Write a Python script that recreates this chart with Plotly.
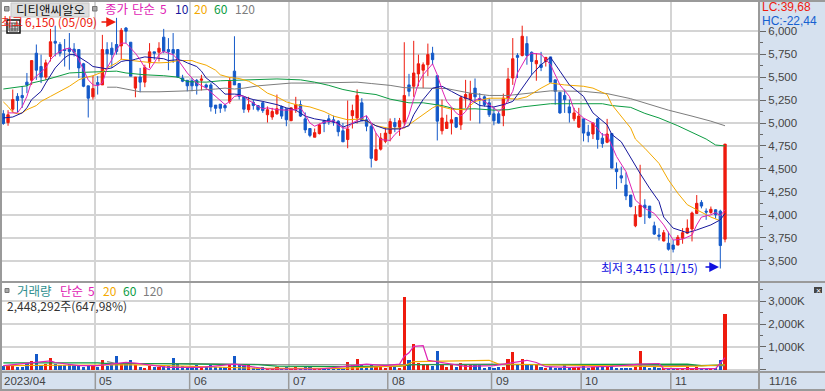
import plotly.graph_objects as go

open_ = [5100,5005,5150,5290,5300,5445,5465,5760,5615,5500,5725,5890,5855,5800,5815,5805,5800,5645,5405,5285,
5440,5415,5800,5815,5855,5840,6035,5880,5380,5500,5445,5655,5775,5770,5935,5800,5800,5800,5490,5465,
5460,5465,5465,5415,5415,5195,5205,5190,5235,5565,5430,5285,5145,5225,5190,5220,5090,5065,
5100,5180,5155,5025,5155,5200,5045,4940,4845,4885,5025,5045,5035,5020,4915,4820,5080,5055,5220,5035,4965,4595,
4715,4800,4885,5005,4955,5010,5415,5400,5535,5575,5635,5760,5515,4915,4940,5000,5060,4980,5265,5255,
5380,5265,5285,5220,5100,5100,5080,5270,5490,5735,5735,5865,5770,5645,5635,5670,
5720,5470,5335,5300,5175,5045,4955,5045,4900,4880,5045,4835,4790,4885,4500,4425,4325,4215,3880,3980,4105,4095,
3880,3780,3715,3690,3670,3670,3745,3800,3845,4015,4135,4040,4025,4055,4040,3735]
high = [5140,5140,5365,5325,5400,5545,5680,5855,5745,5690,6025,6060,5880,5915,5980,5870,5800,5655,5405,5515,
5510,5960,5880,5880,6145,6035,6045,5880,5500,5600,5635,5870,5775,5880,6025,5925,5980,5800,5525,5465,
5490,5480,5525,5430,5435,5195,5205,5210,5500,5945,5430,5285,5285,5255,5190,5235,5180,5165,
5310,5190,5155,5165,5285,5245,5115,4940,4940,4995,5035,5090,5080,5030,5000,5245,5200,5365,5270,5080,5000,4890,
4890,4945,5050,5055,5055,5880,5535,5895,5745,5660,5865,5830,5515,5255,5090,5165,5065,5300,5470,5460,
5485,5325,5300,5270,5175,5125,5320,5600,5925,5760,6060,5945,5780,5760,5775,5715,
5720,5470,5335,5365,5255,5165,5165,5045,4980,5005,5055,4890,5045,4885,4570,4525,4460,4215,4095,4545,4170,4095,
3925,3855,3835,3815,3725,3780,3855,3950,4035,4215,4160,4070,4090,4060,4055,4770]
low = [4980,4970,5115,5115,5165,5325,5415,5470,5435,5470,5670,5725,5725,5615,5580,5725,5490,5390,5060,5255,
5310,5415,5600,5600,5745,5690,5870,5510,5280,5335,5390,5600,5690,5670,5760,5575,5655,5490,5445,5345,
5345,5310,5355,5375,5125,5100,5110,5125,5210,5415,5255,5110,5115,5145,5125,5110,5005,5035,
5090,5045,4965,5020,5110,5065,4890,4845,4845,4875,4900,4980,4970,4855,4795,4725,4940,4995,5020,4910,4515,4585,
4700,4780,4800,4900,4860,4965,5290,5285,5400,5380,5510,5635,4810,4875,4935,4875,4945,4925,5165,5025,
5235,4995,5180,5065,4975,4995,4965,5230,5415,5490,5725,5635,5525,5460,5565,5615,
5445,5200,5100,5110,5005,5020,4945,4800,4790,4825,4720,4730,4780,4505,4280,4345,4160,4080,3865,3975,3900,3960,
3780,3720,3710,3610,3590,3670,3685,3790,3710,4010,4070,3945,4010,3960,3415,3700]
close = [4995,5090,5255,5245,5275,5415,5680,5575,5500,5655,5885,5870,5760,5790,5780,5770,5600,5400,5270,5375,
5420,5800,5755,5745,5780,6010,6000,5510,5500,5445,5605,5775,5760,5815,5780,5775,5760,5500,5455,5405,
5405,5405,5480,5390,5175,5160,5160,5165,5455,5415,5290,5150,5200,5190,5145,5135,5145,5125,
5155,5075,5035,5165,5200,5075,4925,4865,4895,4980,4995,5010,5010,4905,4795,4935,5135,5300,5025,4965,4615,4710,
4835,4890,5015,4960,5025,5300,5345,5545,5645,5635,5745,5690,5020,5055,5010,5035,4955,5275,5310,5320,
5285,5255,5200,5090,5025,5000,5270,5480,5700,5715,5945,5735,5670,5680,5605,5715,
5445,5345,5110,5255,5110,5110,5075,4890,4865,5000,4820,4775,4880,4510,4470,4400,4205,4090,4000,4105,4075,3970,
3790,3765,3805,3625,3625,3755,3805,3855,4020,4125,4095,4030,4060,4000,3665,4770]
volume = [170,195,195,140,125,310,395,675,195,280,505,280,225,195,240,195,195,140,195,170,
115,420,170,195,590,280,340,420,195,140,85,170,140,115,170,170,505,310,170,115,
115,195,115,140,195,140,140,115,280,620,280,195,225,85,85,140,85,55,
115,85,115,85,140,85,115,115,100,85,55,55,55,55,85,340,225,465,195,140,
195,170,115,55,115,115,85,3170,420,1140,295,195,195,170,845,195,140,195,125,295,
195,195,195,195,85,140,85,115,140,465,760,195,465,195,225,195,115,85,
115,85,85,195,115,115,115,195,85,115,115,115,115,195,85,85,85,85,115,845,115,85,
115,85,55,85,55,55,55,115,85,115,85,55,55,85,420,2448]

ma5_i = [1,3,4,5,6,7,9,10,11,12,13,14,15,16,17,18,19,20,21,22,23,24,25,26,27,28,29,30,31,32,33,34,35,36,37,38,39,40,41,43,45,46,47,48,49,50,51,52,53,54,55,56,58,60,62,63,64,65,66,68,70,71,72,73,74,76,77,78,79,80,82,83,85,86,87,88,89,91,92,93,94,96,97,98,99,101,102,104,105,106,108,109,111,112,114,116,117,118,120,121,123,125,126,127,128,129,130,132,133,134,136,138,140,141,142,144,146,147,148,150,151,152,153]
ma5_v = [5110,5110,5180,5290,5455,5510,5600,5690,5745,5780,5805,5815,5780,5690,5580,5470,5415,5405,5435,5600,5690,5800,5870,5870,5815,5760,5690,5600,5580,5655,5745,5780,5760,5745,5690,5615,5545,5490,5435,5380,5290,5235,5200,5235,5290,5300,5290,5245,5220,5180,5155,5165,5145,5140,5145,5165,5090,5000,4965,5010,5025,4980,4945,4945,5000,5055,5080,5000,4890,4820,4810,4875,4965,5090,5255,5435,5525,5645,5525,5365,5235,5110,5075,5125,5220,5270,5235,5165,5125,5165,5345,5545,5725,5760,5750,5635,5525,5415,5290,5145,5055,5000,4935,4870,4870,4760,4635,4470,4305,4160,4070,4015,3890,3800,3725,3735,3780,3890,3975,4000,4025,3990,4055]
ma10_i = [0,2,4,5,6,8,9,10,11,12,13,14,15,16,17,18,19,21,22,23,24,25,26,27,28,30,31,33,34,35,37,38,39,41,42,43,45,46,47,49,50,52,53,55,58,60,62,64,66,69,71,72,74,76,77,79,81,84,86,87,89,91,93,95,97,99,101,104,106,108,110,112,114,116,118,120,123,125,128,129,131,133,135,137,139,140,142,145,147,150,152,153]
ma10_v = [5055,5065,5110,5165,5255,5345,5435,5525,5600,5655,5710,5745,5745,5720,5690,5655,5615,5600,5590,5600,5635,5670,5680,5680,5695,5720,5715,5710,5700,5680,5690,5680,5655,5615,5565,5490,5415,5365,5315,5315,5310,5270,5255,5235,5200,5165,5140,5075,5045,5020,5000,4955,4995,5025,5025,4970,4935,4935,4970,5090,5255,5380,5400,5345,5290,5255,5190,5175,5200,5235,5380,5525,5635,5715,5565,5415,5290,5110,4980,4875,4795,4615,4450,4290,4145,3975,3855,3805,3835,3890,3945,4015]
ma20_i = [0,1,2,3,4,5,7,8,10,12,14,16,17,19,21,22,24,25,27,29,31,33,35,37,40,41,43,45,46,48,50,52,54,56,58,60,62,65,68,70,73,76,79,82,85,87,89,91,92,95,98,100,103,106,109,111,114,116,119,123,125,128,129,131,133,134,136,139,141,143,145,147,150,152]
ma20_v = [5230,5180,5115,5100,5110,5145,5190,5235,5290,5345,5400,5470,5490,5515,5555,5600,5655,5695,5680,5670,5660,5655,5660,5680,5680,5660,5630,5575,5525,5495,5485,5455,5400,5325,5285,5230,5200,5175,5125,5075,5035,5045,4970,4940,4945,5020,5090,5165,5190,5150,5145,5235,5270,5270,5260,5285,5380,5435,5415,5400,5380,5310,5200,5075,4945,4825,4725,4560,4380,4235,4110,4055,3975,3935]
ma60_i = [0,2,5,6,9,12,14,16,18,22,24,26,30,34,37,39,43,46,49,52,58,63,66,69,72,75,79,82,86,89,93,96,100,104,107,110,114,116,127,129,133,136,139,143,149,151,153]
ma60_v = [5370,5385,5405,5435,5470,5515,5545,5550,5555,5565,5565,5545,5525,5515,5500,5450,5445,5460,5465,5470,5480,5470,5445,5410,5365,5335,5310,5260,5220,5220,5190,5150,5155,5140,5145,5175,5200,5210,5210,5190,5170,5105,5055,4970,4825,4760,4750]
ma120_i = [22,24,26,29,33,39,45,47,49,51,54,58,61,66,75,78,82,85,89,94,99,103,107,111,116,123,128,133,137,141,146,150,153]
ma120_v = [5390,5390,5370,5340,5340,5350,5370,5380,5370,5380,5405,5425,5435,5435,5445,5430,5410,5385,5380,5375,5325,5300,5300,5320,5350,5345,5320,5265,5200,5140,5075,5020,4970]

vma5_i = [0,3,8,10,11,16,20,26,28,35,42,49,56,67,72,77,81,84,85,86,87,89,90,94,98,104,107,111,113,115,120,129,135,139,140,151,153]
vma5_v = [185,255,365,395,325,185,185,325,295,115,115,255,40,40,140,255,185,255,600,745,1030,1055,420,280,155,185,280,420,325,140,115,155,255,280,55,55,535]
vma20_i = [0,20,28,40,47,54,72,85,87,95,103,105,116,120,128,134,140,147,153]
vma20_v = [185,225,225,155,115,70,70,185,365,395,420,255,225,225,185,185,140,170,225]
vma60_i = [0,20,24,29,40,54,58,72,84,87,104,110,120,134,145,148,153]
vma60_v = [310,310,255,280,255,225,170,140,170,225,225,225,255,255,255,185,225]
vma120_i = [22,24,40,47,54,58,80,104,116,153]
vma120_v = [365,280,280,255,255,225,225,255,225,185]

month_pos = [19.5,39.5,60.5,81.5,103.5,122.5,141.5]
month_labels = ["05","06","07","08","09","10","11"]
price_ticks = [3500,3750,4000,4250,4500,4750,5000,5250,5500,5750,6000]
price_minor = [3625,3875,4125,4375,4625,4875,5125,5375,5625,5875]
vol_ticks = [0,1000,2000,3000]
vol_tick_text = ["","1,000K","2,000K","3,000K"]
vol_minor = [500,1500,2500,3500]

W, H = 825, 391
RED, BLUE = "#ee1b0e", "#1359c9"
MAG, NAVY, ORA, GRN, GRY = "#e023b4", "#17179c", "#f4a900", "#0c9c42", "#7d7d7d"
PANEL, EDGE, GRID = "#d6e1ef", "#9a9a9a", "#d4d4d4"
TXT = "#444444"
FONT = "Noto Sans CJK KR"
LAT = "Liberation Sans"

px = lambda v: v / W
py = lambda v: 1 - v / H
X0, X1 = 2, 759
x_range = [(X0 - 3.33) / 4.717, (X1 - 3.33) / 4.717]

fig = go.Figure()
idx = list(range(len(close)))
fig.add_trace(go.Candlestick(x=idx, open=open_, high=high, low=low, close=close, whiskerwidth=0,
    increasing=dict(line=dict(color=RED, width=1), fillcolor=RED),
    decreasing=dict(line=dict(color=BLUE, width=1), fillcolor=BLUE),
    hoverinfo="skip", xaxis="x", yaxis="y"))
for xs, ys, c in [(ma120_i, ma120_v, GRY), (ma60_i, ma60_v, GRN), (ma20_i, ma20_v, ORA), (ma10_i, ma10_v, NAVY), (ma5_i, ma5_v, MAG)]:
    fig.add_trace(go.Scatter(x=xs, y=ys, mode="lines", line=dict(color=c, width=1), hoverinfo="skip", xaxis="x", yaxis="y"))
colors = [RED if c >= o else BLUE for o, c in zip(open_, close)]
fig.add_trace(go.Bar(x=idx, y=volume, width=0.68, marker=dict(color=colors, line=dict(width=0)), hoverinfo="skip", xaxis="x2", yaxis="y2"))
for xs, ys, c in [(vma120_i, vma120_v, GRY), (vma60_i, vma60_v, GRN), (vma20_i, vma20_v, ORA), (vma5_i, vma5_v, MAG)]:
    fig.add_trace(go.Scatter(x=xs, y=ys, mode="lines", line=dict(color=c, width=1.2), hoverinfo="skip", xaxis="x2", yaxis="y2"))

shapes = []
def rect(x0, y0, x1, y1, fill=None, line=None, lw=1, layer="above"):
    shapes.append(dict(type="rect", xref="paper", yref="paper", x0=px(x0), x1=px(x1), y0=py(y0), y1=py(y1),
                       fillcolor=fill or "rgba(0,0,0,0)", line=dict(color=line or "rgba(0,0,0,0)", width=lw), layer=layer))
def seg(x0, y0, x1, y1, color=EDGE, lw=2):
    shapes.append(dict(type="line", xref="paper", yref="paper", x0=px(x0), x1=px(x1), y0=py(y0), y1=py(y1),
                       line=dict(color=color, width=lw), layer="above"))

rect(759, 0, 825, 391, fill=PANEL, layer="below")
rect(0, 372, 759, 391, fill=PANEL, layer="below")
seg(0, 1, 825, 1); seg(1, 0, 1, 390); seg(0, 390, 825, 390)
seg(0, 282, 825, 282); seg(0, 372, 825, 372); seg(759, 0, 759, 391)
for m in month_pos:
    shapes.append(dict(type="line", xref="x2", yref="paper", x0=m, x1=m, y0=py(372), y1=py(390), line=dict(color=EDGE, width=1.5), layer="above"))
# header widgets
rect(4.5, 6.5, 9, 11, fill="#a8a8a8", line="#777777")
rect(11, 3, 89, 17, fill="#dedede", line="#c8c8c8")
rect(92.5, 6.5, 97, 11, fill="#a8a8a8", line="#777777")
rect(5, 288.5, 9, 292.5, fill="#a8a8a8", line="#777777")
rect(814, 287, 822, 293, fill="#444444")

ann = []
def label(x, y, t, color, size=12, family=FONT):
    ann.append(dict(xref="paper", yref="paper", x=px(x), y=py(y), text=t, showarrow=False, xanchor="left", yanchor="middle",
                    font=dict(family=family, size=size, color=color), borderpad=0, align="left"))
label(15, 10, "디티앤씨알오", "#111111", 12.5)
label(104, 9, "종가", MAG, 12.5)
label(131, 9, "단순", MAG, 12.5)
label(159, 9, "5", MAG, 12)
label(174, 9, "10", NAVY, 12)
label(193, 9, "20", ORA, 12)
label(213, 9, "60", GRN, 12)
label(234, 9, "120", GRY, 12)
label(0, 22, "최고", RED, 12)
label(24, 22, "6,150 (05/09)", RED, 12)
label(600, 267, "최저 3,415 (11/15)", "#1010e0", 12)
label(16, 290, "거래량", "#2f8f8f", 12.5)
label(59, 290, "단순", MAG, 12.5)
label(87, 290, "5", MAG, 12)
label(102, 290, "20", ORA, 12)
label(122, 290, "60", GRN, 12)
label(142, 290, "120", GRY, 12)
label(6, 305, "2,448,292주(647,98%)", "#333333", 12)
label(761, 7, "LC:39,68", RED, 12, LAT)
label(761, 21, "HC:-22,44", "#1560d0", 12, LAT)
label(768, 381, "11/16", TXT, 11.5, LAT)
label(3, 381, "2023/04", TXT, 11.5, LAT)
for m, t in zip(month_pos, month_labels):
    ann.append(dict(xref="x2", yref="paper", x=m, y=py(381), text=t, showarrow=False, xanchor="left", yanchor="middle", xshift=2,
                    font=dict(family=LAT, size=11.5, color=TXT)))
ann.append(dict(xref="paper", yref="paper", x=px(818), y=py(290), text="×", showarrow=False, font=dict(size=9, color="#ffffff"), xanchor="center", yanchor="middle"))
for tipx, tipy, dx, col in [(116, 22, -16, RED), (719, 267, -15, "#1010e0")]:
    ann.append(dict(xref="paper", yref="paper", x=px(tipx), y=py(tipy), ax=dx, ay=0, text="", showarrow=True, arrowhead=2, arrowsize=1.3, arrowwidth=1.5, arrowcolor=col))

# table icon sits over the clipped "high" label, as in the reference
rect(7, 20, 20, 33, fill="#ffffff", line="#111111", lw=1.5)
rect(9, 23, 18, 31, fill="#dddddd", line="#555555")
seg(9, 26, 18, 26, "#555555", 1); seg(9, 29, 18, 29, "#555555", 1)
seg(12, 23, 12, 31, "#555555", 1); seg(15, 23, 15, 31, "#555555", 1)

axis_font = dict(family=LAT, size=11.5, color=TXT)
fig.update_layout(
    width=W, height=H, margin=dict(l=0, r=0, t=0, b=0), paper_bgcolor="#ffffff", plot_bgcolor="#ffffff",
    showlegend=False, dragmode=False, shapes=shapes, annotations=ann, bargap=0,
    xaxis=dict(domain=[px(X0), px(X1)], range=x_range, tickmode="array", tickvals=month_pos, showticklabels=False, ticks="",
               showgrid=True, gridcolor=GRID, gridwidth=1.5, zeroline=False, rangeslider=dict(visible=False), anchor="y"),
    xaxis2=dict(domain=[px(X0), px(X1)], range=x_range, tickmode="array", tickvals=month_pos, showticklabels=False, ticks="",
                showgrid=True, gridcolor=GRID, gridwidth=1.5, zeroline=False, anchor="y2"),
    yaxis=dict(domain=[py(282), py(2)], range=[5000 - (282 - 123) / 0.0918, 5000 + (123 - 2) / 0.0918], side="right", anchor="x",
               tickmode="array", tickvals=price_ticks, ticktext=[f"{v:,}" for v in price_ticks], tickfont=axis_font,
               ticks="outside", ticklen=6, tickcolor="#666666", showgrid=True, gridcolor=GRID, gridwidth=1.5, zeroline=False,
               minor=dict(tickmode="array", tickvals=price_minor, ticks="outside", ticklen=3, tickcolor="#666666", showgrid=False)),
    yaxis2=dict(domain=[py(372), py(282)], range=[-90, 3830], side="right", anchor="x2",
                tickmode="array", tickvals=vol_ticks, ticktext=vol_tick_text, tickfont=axis_font,
                ticks="outside", ticklen=6, tickcolor="#666666", showgrid=True, gridcolor=GRID, gridwidth=1.5, zeroline=False,
                minor=dict(tickmode="array", tickvals=vol_minor, ticks="outside", ticklen=3, tickcolor="#666666", showgrid=False)),
)
assert len(open_) == len(high) == len(low) == len(close) == len(volume) == 154
fig.write_html("out.html", config=dict(displayModeBar=False), post_script="document.body.style.margin='0';")
